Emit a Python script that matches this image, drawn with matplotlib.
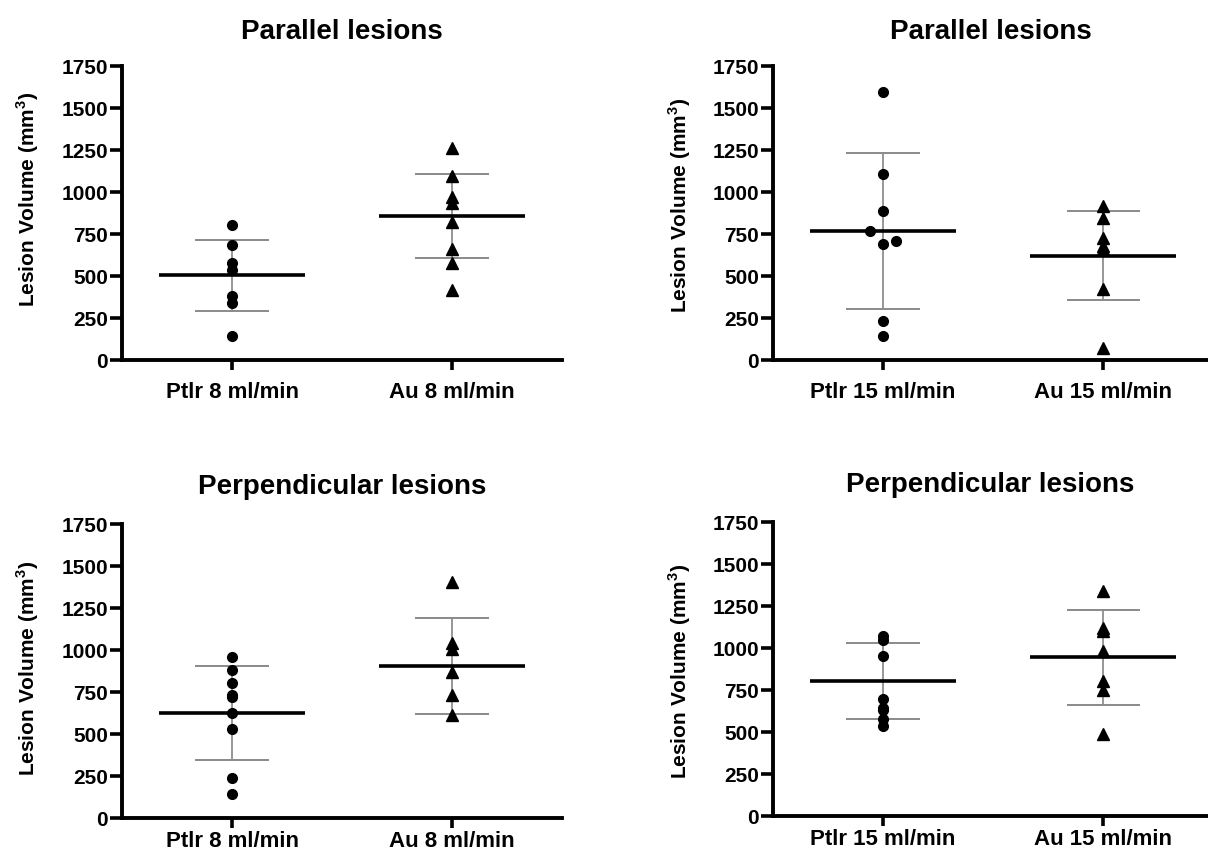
import matplotlib
matplotlib.use("Agg")
import matplotlib.pyplot as plt

plt.rcParams["font.family"] = ["Liberation Sans", "DejaVu Sans"]
plt.rcParams["font.weight"] = "bold"
plt.rcParams["mathtext.fontset"] = "custom"
plt.rcParams["mathtext.bf"] = "Liberation Sans:bold"
plt.rcParams["mathtext.rm"] = "Liberation Sans:bold"

# values (mm^3)
par8_ptir = [805, 686, 577, 537, 379, 337, 145]
par8_au = [1259, 1096, 971, 937, 824, 660, 575, 418]
par15_ptir = [1596, 1110, 888, 767, 710, 688, 230, 141]
par15_ptir_jit = [0, 0, 0, -0.06, 0.06, 0, 0, 0]
par15_au = [918, 848, 725, 680, 660, 422, 69]
perp8_ptir = [961, 878, 801, 735, 720, 624, 527, 240, 143]
perp8_au = [1407, 1043, 1007, 872, 733, 616]
perp15_ptir = [1069, 1050, 950, 696, 643, 632, 579, 538]
perp15_au = [1341, 1119, 1101, 980, 805, 748, 488]

# mean and SD as drawn in the reference
par8_mean, par8_sd = [503, 858], [210, 252]
par15_mean, par15_sd = [768, 622], [463, 267]
perp8_mean, perp8_sd = [627, 904], [280, 286]
perp15_mean, perp15_sd = [803, 945], [227, 283]

labels8 = ["Ptlr 8 ml/min", "Au 8 ml/min"]
labels15 = ["Ptlr 15 ml/min", "Au 15 ml/min"]
yticks = [0, 250, 500, 750, 1000, 1250, 1500, 1750]

W, H = 1208, 853
fig = plt.figure(figsize=(W / 100, H / 100), dpi=100)


def panel(rect, title, pad, ptir, au, mean, sd, xlabels, xmax=1.5, jit=None,
          xpad=8):
    ax = fig.add_axes(rect)
    if jit is None:
        jit = [0] * len(ptir)
    ax.plot(jit, ptir, "o", color="black", ms=7, zorder=3)
    ax.plot([1] * len(au), au, "^", color="black", ms=8, zorder=3)
    for i in range(2):
        ax.errorbar(i, mean[i], yerr=sd[i], fmt="none", ecolor="#7a7a7a",
                    elinewidth=1.1, capsize=0, zorder=2)
        ax.hlines([mean[i] - sd[i], mean[i] + sd[i]], i - 0.166, i + 0.166,
                  color="#8a8a8a", lw=1.4, zorder=2)
        ax.hlines(mean[i], i - 0.33, i + 0.33, color="black", lw=2.6, zorder=4)
    ax.set_xlim(-0.5, xmax)
    ax.set_ylim(0, 1750)
    ax.set_yticks(yticks)
    ax.set_xticks([0, 1])
    ax.set_xticklabels(xlabels, fontsize=16, fontweight="bold")
    ax.tick_params(axis="y", labelsize=15, length=9, width=2.6, pad=1)
    ax.tick_params(axis="x", length=7, width=2.6, pad=xpad)
    for lab in ax.get_yticklabels():
        lab.set_fontweight("bold")
    for s in ["top", "right"]:
        ax.spines[s].set_visible(False)
    for s in ["left", "bottom"]:
        ax.spines[s].set_linewidth(2.8)
    ax.set_title(title, fontsize=20, fontweight="bold", pad=pad)
    return ax


panel([122 / W, 1 - 361 / H, 440 / W, 294 / H], "Parallel lesions", 20,
      par8_ptir, par8_au, par8_mean, par8_sd, labels8)
panel([773 / W, 1 - 361 / H, 435 / W, 294 / H], "Parallel lesions", 20,
      par15_ptir, par15_au, par15_mean, par15_sd, labels15, xmax=1.477,
      jit=par15_ptir_jit)
panel([122 / W, 1 - 819 / H, 440 / W, 294 / H], "Perpendicular lesions", 22,
      perp8_ptir, perp8_au, perp8_mean, perp8_sd, labels8, xpad=1.5)
panel([773 / W, 1 - 817 / H, 435 / W, 294 / H], "Perpendicular lesions", 22,
      perp15_ptir, perp15_au, perp15_mean, perp15_sd, labels15, xmax=1.477,
      xpad=1.5)

ylab = r"Lesion Volume (mm$^{\mathbf{3}}$)"
for x, y in [(28, 199), (680, 205), (28, 668), (680, 671)]:
    fig.text(x / W, 1 - y / H, ylab, rotation=90, ha="center", va="center",
             fontsize=15, fontweight="bold")

fig.savefig("out.png", dpi=100)
